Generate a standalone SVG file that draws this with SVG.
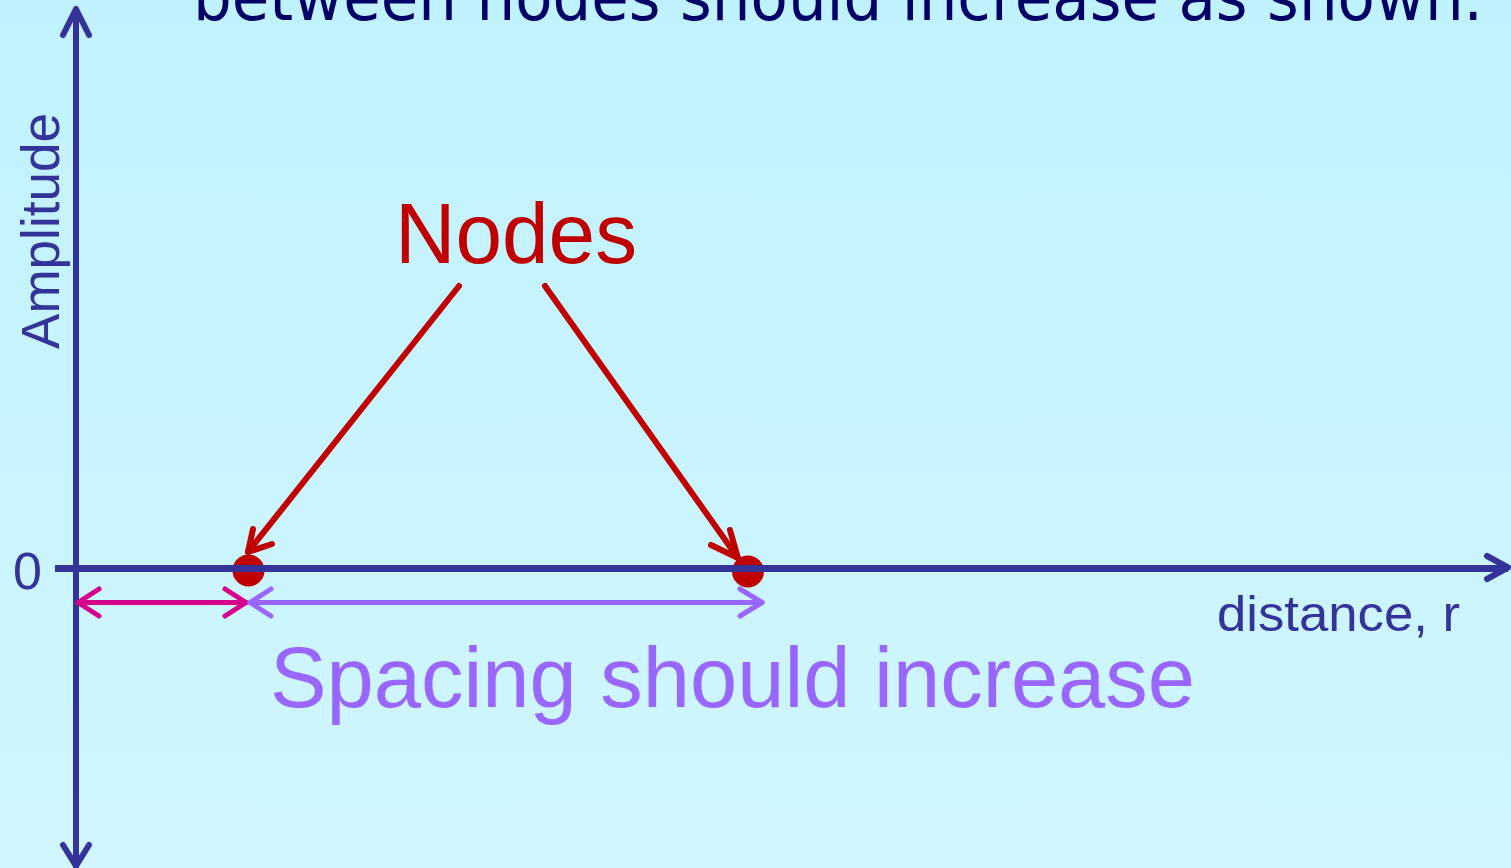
<svg xmlns="http://www.w3.org/2000/svg" width="1511" height="868" viewBox="0 0 1511 868">
  <defs>
    <linearGradient id="bg" x1="0" y1="0" x2="0" y2="1">
      <stop offset="0" stop-color="#c0f2fe"/>
      <stop offset="1" stop-color="#d1f6fe"/>
    </linearGradient>
  </defs>
  <style>
    .axis{stroke:#333399;stroke-width:6;fill:none;stroke-linecap:round;stroke-linejoin:round}
    .red{stroke:#c00000;stroke-width:6;fill:none;stroke-linecap:round;stroke-linejoin:round}
    .mag{stroke:#d6008f;stroke-width:5;fill:none;stroke-linecap:round;stroke-linejoin:round}
    .pur{stroke:#9966ff;stroke-width:5;fill:none;stroke-linecap:round;stroke-linejoin:round}
    .sans{font-family:"Liberation Sans",Arial,sans-serif}
  </style>
  <rect width="1511" height="868" fill="url(#bg)"/>

  <g id="title">
    <text x="193" y="20" font-family="DejaVu Sans, Verdana, sans-serif" font-size="66" fill="#000066" textLength="1290" lengthAdjust="spacingAndGlyphs">between nodes should increase as shown.</text>
  </g>

  <g id="node-1"><circle cx="248.5" cy="570.5" r="16" fill="#c00000"/></g>
  <g id="node-2"><circle cx="748" cy="571.5" r="16" fill="#c00000"/></g>

  <g id="axes">
    <path class="axis" d="M76 10 V866"/>
    <path class="axis" d="M63 35 L76 9 L89 35"/>
    <path class="axis" d="M63 845 L76 866 L89 845"/>
    <path d="M55 568.5 H1508" stroke="#333399" stroke-width="7" fill="none"/>
    <path class="axis" d="M1487 556 L1508 567.5 L1487 579"/>
  </g>

  <g id="connectors">
    <path class="red" d="M459 286 L248 552"/>
    <path class="red" d="M253 529 L248 552 L272 544"/>
    <path class="red" d="M545 286 L738 558"/>
    <path class="red" d="M730 530 L738 558 L711 545"/>
    <path class="mag" d="M78 602.5 H246"/>
    <path class="mag" d="M99 589 L78 602.5 L99 616"/>
    <path class="mag" d="M225 589 L246 602.5 L225 616"/>
    <path class="pur" d="M250 602.5 H762"/>
    <path class="pur" d="M271 589 L250 602.5 L271 616"/>
    <path class="pur" d="M740 589 L762 602.5 L740 616"/>
  </g>

  <g id="labels">
    <text class="sans" x="395" y="263" font-size="85" fill="#c00000" textLength="242" lengthAdjust="spacingAndGlyphs">Nodes</text>
    <text class="sans" x="13" y="589" font-size="52" fill="#333399">0</text>
    <text class="sans" x="1217" y="631" font-size="50" fill="#333399" textLength="243" lengthAdjust="spacingAndGlyphs">distance, r</text>
    <text class="sans" transform="translate(59 349) rotate(-90)" x="0" y="0" font-size="53" fill="#333399" textLength="236" lengthAdjust="spacingAndGlyphs">Amplitude</text>
    <text class="sans" x="270" y="707" font-size="86" fill="#9966ff" textLength="925" lengthAdjust="spacingAndGlyphs">Spacing should increase</text>
  </g>
</svg>
